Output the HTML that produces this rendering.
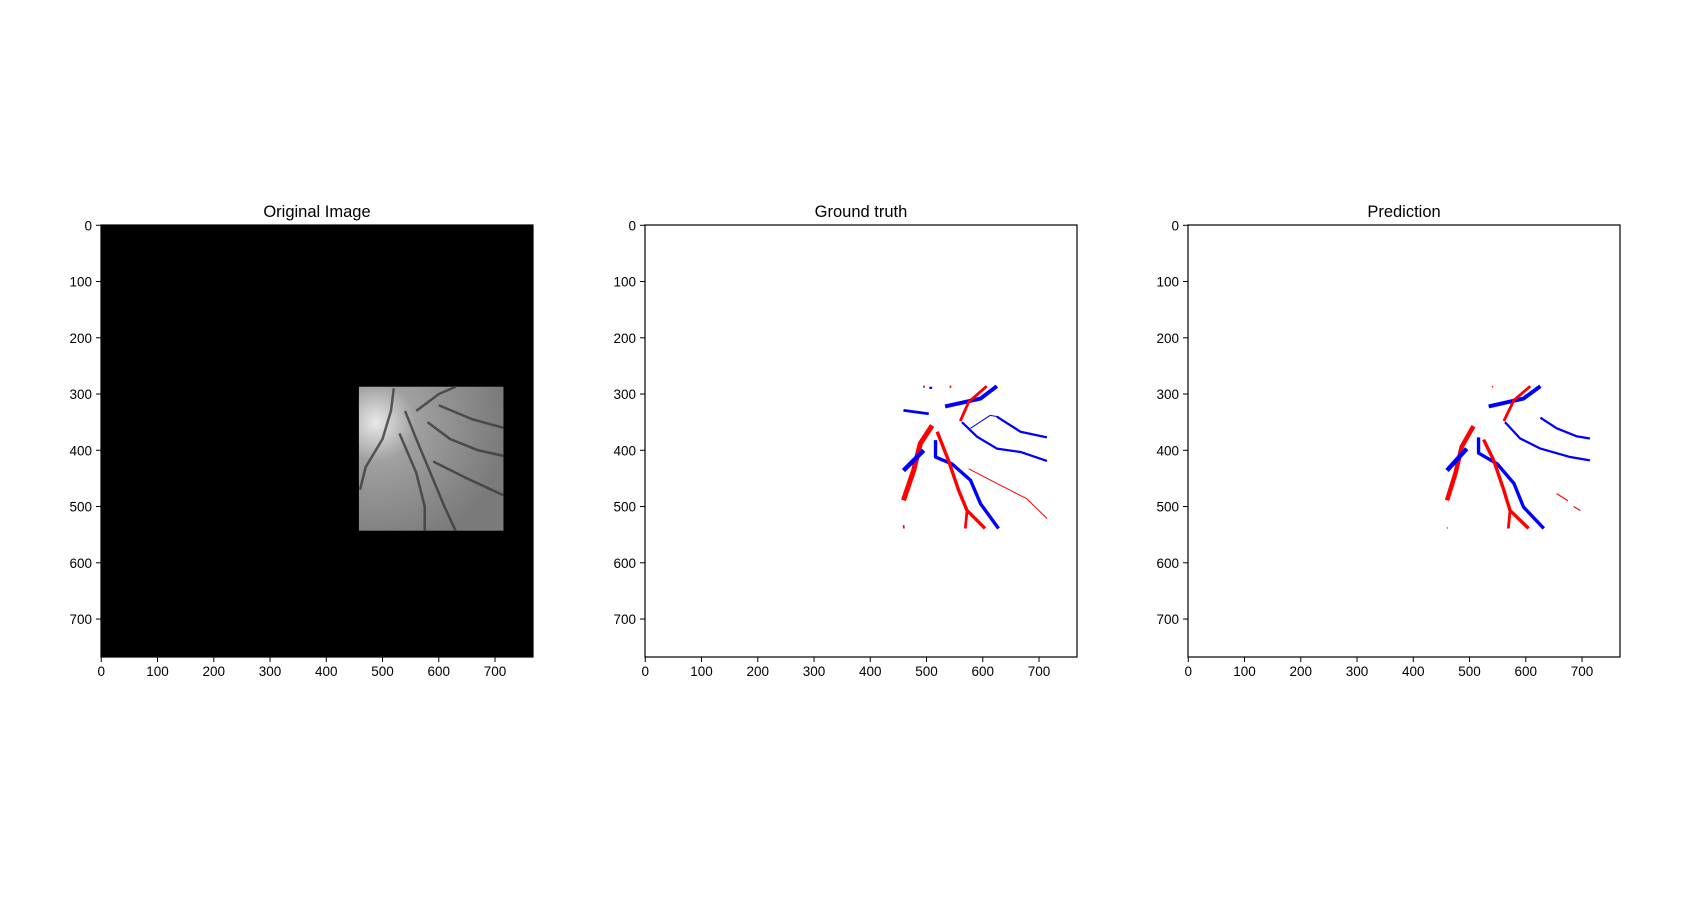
<!DOCTYPE html>
<html><head><meta charset="utf-8"><style>
body{margin:0;background:#fff;}
svg text{font-family:"Liberation Sans","DejaVu Sans",sans-serif;fill:#000;}
</style></head><body>
<svg id="fig" width="1700" height="900" xmlns="http://www.w3.org/2000/svg">
<rect width="1700" height="900" fill="#fff"/>
</svg>
<script>
const axesLefts=[101,645,1188];
const titles=["Original Image","Ground truth","Prediction"];
const tickValues=[0,100,200,300,400,500,600,700];
const imgSize=768;
// vessel polylines in image pixel coords: [color, width(px units), points]
const gtVessels=[
 ["b",7,[[533,322],[596,308],[625,286]]],
 ["b",5,[[459,329],[504,335]]],
 ["b",4,[[505,289],[510,289]]],
 ["r",4,[[494,287],[497,287]]],
 ["r",4,[[541,287],[544,287]]],
 ["r",5,[[560,348],[575,314],[607,286]]],
 ["b",1,[[578,361],[613,338],[625,340]]],
 ["b",4,[[625,340],[631,344],[667,367],[714,377]]],
 ["b",4,[[563,350],[590,376],[625,397],[667,403],[714,419]]],
 ["r",1.5,[[575,433],[625,459],[678,486],[714,521]]],
 ["r",9,[[510,356],[489,388],[477,436],[459,489]]],
 ["b",8,[[459,436],[495,400]]],
 ["b",6,[[516,382],[516,412],[545,424],[578,453],[596,495],[628,539]]],
 ["r",6,[[519,367],[539,418],[557,471],[572,507],[604,539]]],
 ["r",5,[[572,507],[569,539]]],
 ["r",3,[[459,533],[460,539]]]
];
const predVessels=[
 ["r",3,[[540,287],[542,287]]],
 ["b",7,[[534,322],[596,308],[626,286]]],
 ["r",5,[[561,348],[579,311],[608,286]]],
 ["b",4,[[626,342],[655,361],[690,375],[714,379]]],
 ["b",4,[[563,350],[590,379],[626,397],[679,412],[714,418]]],
 ["r",8,[[507,357],[486,394],[475,441],[460,489]]],
 ["b",8,[[460,436],[495,397]]],
 ["b",6,[[516,377],[516,405],[549,424],[579,459],[596,501],[632,539]]],
 ["r",6,[[525,381],[543,418],[561,471],[572,507],[605,539]]],
 ["r",5,[[572,507],[569,539]]],
 ["r",2,[[655,477],[675,490]]],
 ["r",2,[[685,500],[697,507]]],
 ["r",2,[[460,537],[461,539]]]
];
const origVessels=[
 [[520,290],[515,330],[500,380],[470,430],[460,470]],
 [[540,330],[560,380],[585,440],[610,500],[630,543]],
 [[530,370],[560,440],[575,500],[575,543]],
 [[560,330],[600,300],[630,287]],
 [[580,350],[620,380],[670,400],[715,410]],
 [[600,320],[660,345],[715,360]],
 [[590,420],[650,450],[715,480]]
];
const NS="http://www.w3.org/2000/svg";
const svg=document.getElementById('fig');
const TOP=225,SIZE=432,K=SIZE/imgSize;
function mk(tag,attrs,parent){const e=document.createElementNS(NS,tag);for(const k in attrs)e.setAttribute(k,attrs[k]);(parent||svg).appendChild(e);return e;}
function sx(L,v){return L+(v+0.5)*K;}
function sy(v){return TOP+(v+0.5)*K;}
function drawVessels(g,L,list){
 for(const [c,w,pts] of list){
  const p=mk('polyline',{points:pts.map(q=>sx(L,q[0])+','+sy(q[1])).join(' '),fill:'none',stroke:c==='r'?'#ff0000':'#0000ff','stroke-width':Math.max(1,w*K),'stroke-linejoin':'round','stroke-linecap':'butt'},g);
  
  
 }
}
axesLefts.forEach((L,i)=>{
 const g=mk('g',{});
 
 
 const bg=mk('rect',{x:L,y:TOP,width:SIZE,height:SIZE,fill:i===0?'#000':'#fff'},g);
 
 
 if(i===0){
  const x0=sx(L,458),y0=sy(287),w=(715-458)*K,h=(543-287)*K;
  const defs=mk('defs',{},g);
  const rg=mk('radialGradient',{id:'spot',cx:'0.12',cy:'0.25',r:'0.9'},defs);
  mk('stop',{offset:'0','stop-color':'#e8e8e8'},rg);
  mk('stop',{offset:'0.3','stop-color':'#a0a0a0'},rg);
  mk('stop',{offset:'1','stop-color':'#7a7a7a'},rg);
  const patch=mk('rect',{x:x0,y:y0,width:w,height:h,fill:'url(#spot)'},g);
  
  
  for(const pts of origVessels){
   const p=mk('polyline',{points:pts.map(q=>sx(L,q[0])+','+sy(q[1])).join(' '),fill:'none',stroke:'#3a3a3a','stroke-width':2.5,'stroke-opacity':0.8},g);
   
   
  }
 }
 if(i===1)drawVessels(g,L,gtVessels);
 if(i===2)drawVessels(g,L,predVessels);
 const fr=mk('rect',{x:L,y:TOP,width:SIZE,height:SIZE,fill:'none',stroke:'#000','stroke-width':1.2},g);
 
 
 const t=mk('text',{x:L+SIZE/2,y:217,'text-anchor':'middle','font-size':16.5},g);
 t.textContent=titles[i];
 
 
 tickValues.forEach(v=>{
  const x=sx(L,v),y=sy(v);
  mk('line',{x1:x,y1:TOP+SIZE,x2:x,y2:TOP+SIZE+5,stroke:'#000','stroke-width':1},g);
  const tx=mk('text',{x:x,y:TOP+SIZE+19,'text-anchor':'middle','font-size':13.5},g);
  tx.textContent=v;
  
  
  mk('line',{x1:L-5,y1:y,x2:L,y2:y,stroke:'#000','stroke-width':1},g);
  const ty=mk('text',{x:L-9,y:y+5,'text-anchor':'end','font-size':13.5},g);
  ty.textContent=v;
  
  
 });
});
</script>
</body></html>
